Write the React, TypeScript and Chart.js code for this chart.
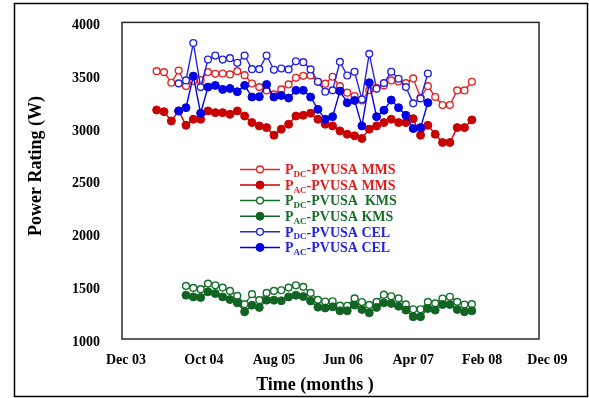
import React, { useEffect, useRef } from 'react';
import { Chart, registerables } from 'chart.js';

Chart.register(...registerables);

// ---- Data (monthly index on x; null = no reading) ----
const X_LABELS = ['Dec 03', 'Oct 04', 'Aug 05', 'Jun 06', 'Apr 07', 'Feb 08', 'Dec 09'];
const X_TICK_POS = [-4.19, 6.45, 16.0, 25.4, 35.0, 44.4, 53.3];
const X_MIN = -4.73;
const X_MAX = 52.16;
const Y_MIN = 1000;
const Y_MAX = 4000;
const Y_STEP = 500;

const PDC_MMS = [3538, 3529, 3428, 3544, 3397, 3444, 3453, 3529, 3513, 3516, 3507, 3538, 3500, 3421, 3387, 3355, 3318, 3365, 3412, 3475, 3494, 3497, 3437, 3419, 3485, 3396, 3334, 3302, 3260, 3356, 3381, 3403, 3450, 3440, 3425, 3469, 3286, 3396, 3293, 3217, 3217, 3355, 3355, 3437];
const PAC_MMS = [3170, 3154, 3066, 3161, 3025, 3082, 3082, 3161, 3145, 3145, 3129, 3161, 3113, 3051, 3019, 3003, 2931, 2988, 3035, 3113, 3120, 3139, 3082, 3035, 3019, 2972, 2940, 2925, 2900, 2988, 3019, 3051, 3082, 3051, 3051, 3088, 2931, 3025, 2940, 2862, 2862, 3003, 3003, 3076];
const PDC_KMS = [null, null, null, null, 1503, 1484, 1472, 1525, 1509, 1487, 1456, 1409, 1330, 1425, 1368, 1437, 1456, 1462, 1487, 1509, 1494, 1437, 1371, 1355, 1357, 1316, 1315, 1385, 1350, 1323, 1352, 1420, 1405, 1385, 1328, 1282, 1282, 1352, 1338, 1384, 1400, 1352, 1327, 1330];
const PAC_KMS = [null, null, null, null, 1415, 1399, 1393, 1447, 1431, 1399, 1374, 1343, 1258, 1320, 1299, 1368, 1368, 1362, 1399, 1415, 1402, 1360, 1302, 1294, 1305, 1267, 1267, 1321, 1280, 1248, 1299, 1343, 1337, 1311, 1274, 1211, 1211, 1289, 1274, 1327, 1327, 1280, 1258, 1267];
const PDC_CEL = [null, null, null, 3422, 3450, 3805, 3387, 3648, 3686, 3648, 3661, 3617, 3686, 3557, 3557, 3686, 3551, 3563, 3554, 3632, 3623, 3554, 3437, 3343, 3356, 3626, 3497, 3532, 3271, 3702, 3371, 3425, 3532, 3466, 3387, 3233, 3280, 3516, null, null, null, null, null, null];
const PAC_CEL = [null, null, null, 3161, 3192, 3491, 3139, 3387, 3403, 3365, 3374, 3343, 3403, 3293, 3296, 3412, 3293, 3308, 3283, 3356, 3356, 3293, 3176, 3082, 3107, 3349, 3239, 3261, 3019, 3428, 3107, 3167, 3264, 3192, 3120, 2994, 3003, 3239, null, null, null, null, null, null];

const RED_DC = 'rgb(228,38,38)';
const RED_AC = 'rgb(200,0,0)';
const GREEN_DC = 'rgb(22,112,42)';
const GREEN_AC = 'rgb(18,100,36)';
const BLUE_DC = 'rgb(36,36,228)';
const BLUE_AC = 'rgb(0,0,230)';

const SERIF = '"Liberation Serif", "Times New Roman", serif';

const LEGEND = [
  { sub: 'DC', rest: '-PVUSA MMS', line: RED_DC, text: 'rgb(225,30,30)', open: true },
  { sub: 'AC', rest: '-PVUSA MMS', line: RED_AC, text: 'rgb(225,30,30)', open: false },
  { sub: 'DC', rest: '-PVUSA  KMS', line: GREEN_DC, text: 'rgb(25,110,40)', open: true },
  { sub: 'AC', rest: '-PVUSA KMS', line: GREEN_AC, text: 'rgb(25,110,40)', open: false },
  { sub: 'DC', rest: '-PVUSA CEL', line: BLUE_DC, text: 'rgb(35,35,230)', open: true },
  { sub: 'AC', rest: '-PVUSA CEL', line: BLUE_AC, text: 'rgb(35,35,230)', open: false },
];

const toPoints = (arr: (number | null)[]) =>
  arr.map((v, i) => (v == null ? null : { x: i, y: v })).filter((p) => p !== null) as { x: number; y: number }[];

const makeSet = (label: string, arr: (number | null)[], color: string, open: boolean, order: number) => ({
  label,
  data: toPoints(arr),
  borderColor: color,
  backgroundColor: open ? '#ffffff' : color,
  pointBorderColor: color,
  pointBackgroundColor: open ? '#ffffff' : color,
  pointRadius: open ? 3.4 : 4,
  pointBorderWidth: open ? 1.4 : 1,
  borderWidth: 1.4,
  tension: 0,
  order,
});

const decorPlugin = {
  id: 'decor',
  afterDraw(chart: any) {
    const { ctx, chartArea: a } = chart;
    ctx.save();
    // plot frame
    ctx.strokeStyle = '#2a2a2a';
    ctx.lineWidth = 1.5;
    ctx.strokeRect(a.left, a.top, a.right - a.left, a.bottom - a.top);
    // outer frame
    ctx.strokeStyle = '#000';
    ctx.lineWidth = 1.5;
    ctx.strokeRect(14.5, 3.5, 573, 393);

    // axis titles
    ctx.fillStyle = '#000';
    ctx.font = `bold 18px ${SERIF}`;
    ctx.textAlign = 'center';
    ctx.textBaseline = 'middle';
    ctx.fillText('Time (months )', 315, 385);
    ctx.save();
    ctx.translate(36, 166);
    ctx.rotate(-Math.PI / 2);
    ctx.fillText('Power Rating (W)', 0, 0);
    ctx.restore();

    // legend
    const lx = a.left + 118;
    const y0 = a.top + 147;
    LEGEND.forEach((e, i) => {
      const y = y0 + i * 15.6;
      ctx.strokeStyle = e.line;
      ctx.lineWidth = 1.5;
      ctx.beginPath();
      ctx.moveTo(lx, y);
      ctx.lineTo(lx + 40, y);
      ctx.stroke();
      ctx.beginPath();
      ctx.arc(lx + 20, y, e.open ? 3.4 : 4, 0, Math.PI * 2);
      ctx.fillStyle = e.open ? '#fff' : e.line;
      ctx.fill();
      ctx.lineWidth = e.open ? 1.4 : 1;
      ctx.stroke();

      ctx.fillStyle = e.text;
      ctx.textAlign = 'left';
      ctx.textBaseline = 'alphabetic';
      let tx = lx + 45;
      ctx.font = `bold 14px ${SERIF}`;
      ctx.fillText('P', tx, y + 4.8);
      tx += ctx.measureText('P').width;
      ctx.font = `bold 9px ${SERIF}`;
      ctx.fillText(e.sub, tx, y + 7.5);
      tx += ctx.measureText(e.sub).width;
      ctx.font = `bold 14px ${SERIF}`;
      ctx.fillText(e.rest, tx, y + 4.8);
    });
    ctx.restore();
  },
};

export default function App() {
  const ref = useRef<HTMLCanvasElement | null>(null);
  useEffect(() => {
    if (!ref.current) return;
    Chart.defaults.font.family = SERIF;
    const chart = new Chart(ref.current, {
      type: 'line',
      data: {
        datasets: [
          makeSet('PDC-PVUSA MMS', PDC_MMS, RED_DC, true, 3),
          makeSet('PAC-PVUSA MMS', PAC_MMS, RED_AC, false, 2),
          makeSet('PDC-PVUSA KMS', PDC_KMS, GREEN_DC, true, 5),
          makeSet('PAC-PVUSA KMS', PAC_KMS, GREEN_AC, false, 4),
          makeSet('PDC-PVUSA CEL', PDC_CEL, BLUE_DC, true, 1),
          makeSet('PAC-PVUSA CEL', PAC_CEL, BLUE_AC, false, 0),
        ],
      },
      options: {
        responsive: false,
        animation: false,
        layout: { padding: { left: 0, top: 21, right: 50, bottom: 0 } },
        plugins: { legend: { display: false }, tooltip: { enabled: false } },
        scales: {
          x: {
            type: 'linear',
            min: X_MIN,
            max: X_MAX,
            grid: { display: false },
            border: { display: false },
            afterBuildTicks: (s: any) => {
              s.ticks = X_TICK_POS.map((v) => ({ value: v }));
            },
            afterFit: (s: any) => {
              s.height = 59;
            },
            ticks: {
              autoSkip: false,
              maxRotation: 0,
              padding: 5,
              color: '#000',
              font: { family: SERIF, size: 14, weight: 'bold' },
              callback: (_v: any, i: number) => X_LABELS[i],
            },
          },
          y: {
            type: 'linear',
            min: Y_MIN,
            max: Y_MAX,
            grid: { display: false },
            border: { display: false },
            afterFit: (s: any) => {
              s.width = 122;
            },
            ticks: {
              stepSize: Y_STEP,
              padding: 14,
              labelOffset: 3,
              color: '#000',
              font: { family: SERIF, size: 14, weight: 'bold' },
              callback: (v: any) => String(v),
            },
          },
        },
      },
      plugins: [decorPlugin],
    } as any);
    return () => chart.destroy();
  }, []);
  return (
    <div style={{ position: 'fixed', left: 0, top: 0, width: 589, height: 398, background: '#fff' }}>
      <canvas ref={ref} width={589} height={398} style={{ display: 'block' }} />
    </div>
  );
}
